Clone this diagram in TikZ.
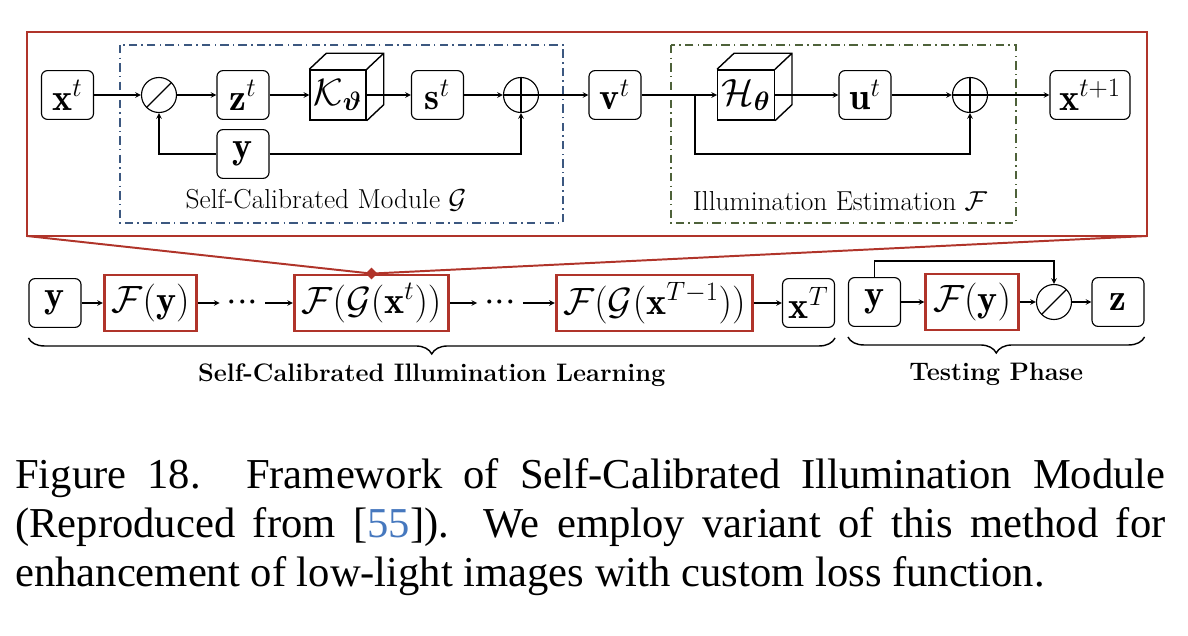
\documentclass[tikz,border=0pt]{standalone}
\usepackage{fix-cm}
\usepackage{fontspec}
\usepackage{mathtools}
\usepackage{bm}
\usepackage{tikz}
\usetikzlibrary{shapes,arrows,calc,positioning,decorations.pathreplacing}

\newfontfamily\capfont{Liberation Serif}
\definecolor{boxred}{RGB}{176,52,42}
\definecolor{dashblue}{RGB}{60,88,128}
\definecolor{dashgreen}{RGB}{78,98,58}
\definecolor{citeblue}{RGB}{70,120,190}

\begin{document}
\begin{tikzpicture}[x=0.025cm,y=-0.025cm,>=stealth]
            \useasboundingbox (0,0) rectangle (1188,636);
            \tikzstyle{state}=[rectangle,draw,inner sep=0.1cm,font=\fontsize{27}{32}\selectfont]
            \tikzstyle{every edge}=[draw,line width=0.8pt]

            \tikzstyle{B}=[state,rounded corners=0.15cm,line width=0.8pt,minimum width=1.3cm,minimum height=1.22cm]   % plain box
            \tikzstyle{R}=[state,draw=boxred,line width=2pt,inner xsep=0.18cm,minimum height=1.4cm]   % red box
            \tikzstyle{K}=[state,fill=white,line width=1pt,minimum width=1.35cm,minimum height=1.25cm]  % cube front
            \tikzstyle{O}=[circle,draw,line width=0.8pt,minimum size=0.875cm,inner sep=0]  % operator
            \tikzstyle{D}=[state,draw=none,inner sep=0.17cm]   % dots
            \tikzstyle{L}=[font=\fontsize{19.5}{23}\selectfont,inner sep=0]   % module label
            \tikzstyle{LB}=[font=\fontsize{18}{22}\selectfont\bfseries,inner sep=0]   % phase label

            \tikzstyle{E}=[draw=boxred,line width=2pt]   % zoom frame
            \tikzstyle{G1}=[draw=dashblue,line width=1pt,dash pattern=on 6pt off 3pt on 1pt off 3pt]
            \tikzstyle{G2}=[draw=dashgreen,line width=1pt,dash pattern=on 6pt off 3pt on 1pt off 3pt]
            \tikzstyle{Br}=[decorate,decoration={brace,mirror,amplitude=0.4cm},line width=1pt]

            % zoomed stage
            \coordinate (TL) at (27,32);
            \coordinate (BR) at (1147,236);
            \draw[E] (TL) rectangle (BR);
            \draw[G1] (120,45) rectangle (563,223);
            \draw[G2] (671,45) rectangle (1016,223);

            \node[B] (xt) at (67.5,95) {$\mathbf{x}^t$};
            \node[O,forbidden sign] (dv) at (159,95) {};
            \node[B] (zt) at (243,95) {$\mathbf{z}^t$};
            \node[K] (K) at (338,95) {$\mathcal{K}_{\bm{\vartheta}}$};
            \node[B] (st) at (437.5,95) {$\mathbf{s}^t$};
            \node[O] (p1) at (521,95) {};
            \node[B] (y) at (243,154) {$\mathbf{y}$};
            \node[B] (vt) at (615,95) {$\mathbf{v}^t$};
            \node[K] (H) at (746,95) {$\mathcal{H}_{\bm{\theta}}$};
            \node[B] (ut) at (865,95) {$\mathbf{u}^t$};
            \node[O] (p2) at (970,95) {};
            \node[B,minimum width=2cm] (xn) at (1090,95) {$\mathbf{x}^{t+1}$};

            \node[L] (lg) at (326,200) {Self-Calibrated Module $\mathcal{G}$};
            \node[L] (lf) at (840,201) {Illumination Estimation $\mathcal{F}$};

            \foreach \c in {K,H}
                \draw[line width=1pt] (\c.north west) -- ++(17,-16) -- ($(\c.north east)+(17,-16)$) -- ($(\c.south east)+(17,-16)$) -- (\c.south east) (\c.north east) -- ++(17,-16);
            \foreach \p in {p1,p2}
                \draw[line width=0.8pt] (\p.north) -- (\p.south) (\p.west) -- (\p.east);

            \path[->] (xt) edge (dv) (dv) edge (zt) (zt) edge (K) (K) edge (st) (st) edge (p1)
                (p1) edge (vt) (vt) edge (H) (H) edge (ut) (ut) edge (p2) (p2) edge (xn);
            \draw[->,line width=0.8pt] (y.west) -| (dv);
            \draw[->,line width=0.8pt] (y.east) -| (p1);
            \coordinate (br) at (695,95);
            \coordinate (bb) at (695,154);
            \draw[->,line width=0.8pt] (br) -- (bb) -| (p2);

            % unrolled stages
            \node[B] (y0) at (55,303) {$\mathbf{y}$};
            \node[R] (f0) at (150.5,303) {$\mathcal{F}(\mathbf{y})$};
            \node[D] (d1) at (242.5,303) {${\cdot}{\cdot}{\cdot}$};
            \node[R] (fg) at (371.5,303) {$\mathcal{F}(\mathcal{G}(\mathbf{x}^t))$};
            \node[D] (d2) at (500,303) {${\cdot}{\cdot}{\cdot}$};
            \node[R] (fT) at (654.5,303) {$\mathcal{F}(\mathcal{G}(\mathbf{x}^{T-1}))$};
            \node[B] (xT) at (808.5,303) {$\mathbf{x}^T$};
            \node[diamond,fill=boxred,inner sep=0,minimum size=0.3cm] (dm) at (fg.north) {};
            \draw[boxred,line width=1.4pt] (TL |- BR) -- (dm.center) -- (BR);

            \path[->] (y0) edge (f0) (f0) edge (d1) (d1) edge (fg) (fg) edge (d2) (d2) edge (fT) (fT) edge (xT);

            % testing
            \node[B] (y1) at (874.5,302) {$\mathbf{y}$};
            \node[R] (f1) at (972,302) {$\mathcal{F}(\mathbf{y})$};
            \node[O,forbidden sign] (d3) at (1054,302) {};
            \node[B] (zz) at (1118,302) {$\mathbf{z}$};
            \path[->] (y1) edge (f1) (f1) edge (d3) (d3) edge (zz);
            \draw[->,line width=0.8pt] (y1.north) -- ++(0,-16) -| (d3);

            \draw[Br] ([yshift=-0.25cm]y0.south west) -- ([yshift=-0.25cm]xT.south east)
                node[LB,midway,below=0.62cm] (ls) {Self-Calibrated Illumination Learning};
            \draw[Br] ([yshift=-0.25cm]y1.south west) -- ([yshift=-0.25cm]zz.south east)
                node[LB,midway,below=0.62cm] (lt) {Testing Phase};

            \node[anchor=north west,inner sep=0,text width=28.75cm,align=justify,font=\capfont\fontsize{30.3}{35}\selectfont] (cap) at (15,458)
                {\tolerance=10000 \hyphenpenalty=10000 \exhyphenpenalty=10000 Figure 18. Framework of Self-Calibrated Illumination Module\linebreak
                (Reproduced from [\textcolor{citeblue}{55}]). We employ variant of this method for\linebreak
                enhancement of low-light images with custom loss function.};
        \end{tikzpicture}
\end{document}
